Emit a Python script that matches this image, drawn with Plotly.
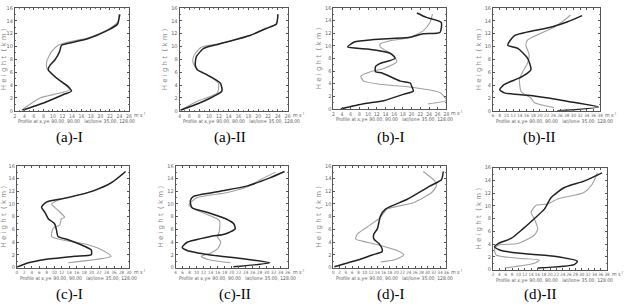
import plotly.graph_objects as go

W, H = 626, 307

# ---- data: (speed m/s, height km) for dark and light profiles ----
a1_dark_x = [3.6, 8.3, 12.1, 13.9, 13.2, 10.75, 9.0, 9.4, 10.4, 11.4, 11.8, 13.2, 17.3, 21.5, 23.6, 24.0]
a1_dark_y = [0.1, 1.3, 2.5, 3.06, 3.8, 5.1, 6.4, 7.1, 7.9, 9.2, 10.2, 10.5, 11.2, 12.5, 13.5, 15.0]
a1_light_x = [3.4, 7.3, 13.5, 10.75, 8.7, 8.7, 9.7, 11.1, 13.2, 17.3, 21.5, 23.6, 24.2]
a1_light_y = [0.1, 2.0, 3.3, 5.1, 6.6, 7.7, 9.2, 10.2, 10.7, 11.3, 12.6, 13.8, 15.0]

a2_dark_x = [4.2, 8.9, 12.6, 12.3, 9.6, 7.6, 7.2, 7.4, 8.9, 11.0, 13.6, 18.3, 21.6, 23.7, 24.0]
a2_dark_y = [0.1, 1.5, 3.06, 4.3, 5.6, 6.4, 7.1, 8.4, 9.7, 10.2, 10.7, 11.7, 12.8, 13.5, 15.0]
a2_light_x = [4.2, 7.6, 11.7, 11.9, 9.6, 7.6, 6.7, 7.0, 8.4, 11.0, 13.6, 18.3, 21.6, 23.7, 24.0]
a2_light_y = [0.1, 1.5, 2.8, 4.3, 5.6, 6.4, 7.6, 8.7, 9.9, 10.3, 10.7, 11.7, 12.8, 13.5, 15.0]

b1_dark_x = [3.7, 9.0, 13.6, 18.1, 20.4, 20.0, 19.7, 17.4, 13.2, 11.7, 11.7, 12.8, 16.2, 15.1, 9.8, 5.3, 6.8, 11.3, 19.3, 22.7, 26.5, 26.8, 23.4, 21.2]
b1_dark_y = [0.0, 0.8, 1.3, 2.3, 2.8, 3.6, 4.1, 4.4, 5.7, 5.9, 6.7, 7.2, 8.0, 8.8, 9.5, 9.8, 10.6, 11.0, 11.3, 11.9, 12.1, 13.7, 14.5, 15.2]
b1_light_x = [23.8, 28.0, 26.5, 20.4, 12.8, 9.0, 8.3, 10.6, 13.6, 16.6, 15.8, 12.8, 12.8, 15.1, 19.6, 22.7, 24.2, 24.8]
b1_light_y = [0.8, 1.4, 2.6, 3.4, 3.9, 4.4, 5.2, 5.9, 6.4, 7.5, 8.5, 9.8, 10.3, 10.8, 11.3, 12.4, 13.7, 15.0]

b2_dark_x = [25.2, 37.5, 28.1, 18.3, 9.4, 8.0, 9.4, 12.4, 14.9, 17.3, 16.3, 13.4, 10.4, 12.4, 23.2, 28.1, 32.6]
b2_dark_y = [0.0, 0.6, 1.5, 2.3, 2.8, 3.3, 4.1, 4.8, 5.4, 6.4, 8.2, 9.7, 10.2, 11.7, 13.0, 13.8, 14.8]
b2_light_x = [24.2, 18.3, 17.3, 15.3, 14.3, 13.9, 14.9, 16.3, 16.8, 15.8, 16.3, 24.2, 27.1, 29.1]
b2_light_y = [0.5, 1.3, 2.0, 2.6, 3.1, 4.8, 6.1, 7.4, 8.7, 10.2, 11.0, 13.0, 14.0, 14.9]

c1_dark_x = [0.0, 3.1, 7.5, 15.4, 19.9, 19.9, 17.2, 13.7, 11.0, 10.6, 10.1, 8.4, 7.5, 6.6, 7.9, 13.7, 20.7, 25.2, 29.1]
c1_dark_y = [0.1, 0.77, 1.3, 1.8, 2.05, 2.8, 3.6, 4.4, 4.9, 5.9, 6.9, 7.7, 8.7, 9.5, 10.3, 11.0, 12.1, 13.3, 15.1]
c1_light_x = [13.7, 25.2, 23.4, 19.0, 11.9, 9.3, 9.7, 11.5, 11.9, 12.8, 11.0, 9.3, 11.9, 19.0, 25.2, 28.7]
c1_light_y = [0.77, 1.8, 2.6, 3.6, 4.4, 4.9, 6.2, 6.7, 7.7, 7.9, 9.0, 10.0, 10.8, 11.8, 13.3, 14.8]

c2_dark_x = [20.5, 30.9, 23.3, 13.9, 7.3, 5.9, 7.3, 13.9, 18.2, 21.0, 20.6, 18.6, 12.9, 8.7, 8.2, 9.1, 16.7, 24.3, 30.9, 35.1]
c2_dark_y = [0.15, 0.8, 1.4, 2.0, 2.7, 3.2, 4.0, 4.9, 5.3, 6.1, 6.9, 7.6, 8.7, 9.4, 10.5, 11.2, 12.0, 12.8, 14.1, 15.1]
c2_light_x = [19.6, 13.2, 11.3, 14.1, 16.0, 16.9, 16.0, 16.5, 16.5, 14.1, 9.3, 7.8, 10.2, 18.8, 24.5, 28.2, 32.5]
c2_light_y = [0.8, 1.3, 1.8, 2.3, 3.0, 4.0, 4.8, 5.8, 7.4, 8.1, 9.2, 9.9, 11.0, 11.8, 12.7, 13.8, 15.0]

d1_dark_x = [0.3, 7.7, 12.4, 15.5, 15.5, 14.5, 12.9, 12.9, 14.0, 14.5, 15.0, 16.6, 23.4, 30.7, 34.4, 35.0]
d1_dark_y = [0.15, 1.2, 2.0, 2.5, 3.0, 3.8, 4.5, 5.3, 6.1, 7.1, 8.1, 9.2, 10.7, 12.8, 13.8, 15.1]
d1_light_x = [15.0, 19.2, 22.4, 20.3, 15.0, 10.8, 7.1, 7.7, 10.8, 15.0, 17.1, 25.5, 31.3, 32.8, 32.3, 28.6]
d1_light_y = [0.9, 1.2, 2.0, 2.7, 3.5, 4.0, 4.5, 5.3, 6.4, 7.9, 9.2, 10.2, 11.8, 12.8, 13.6, 15.1]

d2_dark_x = [16.1, 27.6, 28.6, 21.3, 9.8, 4.1, 2.5, 3.6, 7.7, 11.4, 15.0, 18.2, 20.3, 24.5, 30.7, 36.4]
d2_dark_y = [0.25, 0.8, 1.3, 2.1, 2.6, 3.1, 3.6, 4.1, 4.9, 6.4, 8.0, 9.5, 11.3, 12.9, 13.9, 15.2]
d2_light_x = [5.7, 15.0, 16.6, 9.8, 3.0, 2.5, 4.1, 9.8, 15.0, 16.1, 15.0, 14.0, 15.6, 19.2, 22.4, 30.7, 33.3, 34.9]
d2_light_y = [0.25, 1.0, 1.5, 1.8, 2.3, 3.4, 3.9, 4.1, 5.4, 6.4, 8.0, 9.0, 10.1, 10.3, 11.1, 12.1, 13.4, 15.2]

labels = ["(a)-I", "(a)-II", "(b)-I", "(b)-II", "(c)-I", "(c)-II", "(d)-I", "(d)-II"]
x_ranges = [(2, 26), (4, 26), (2, 28), (6, 38), (0, 30), (4, 36), (0, 36), (2, 38)]
y_range = (0, 16)
y_ticks = [0, 2, 4, 6, 8, 10, 12, 14, 16]

series = [
    (a1_dark_x, a1_dark_y, a1_light_x, a1_light_y),
    (a2_dark_x, a2_dark_y, a2_light_x, a2_light_y),
    (b1_dark_x, b1_dark_y, b1_light_x, b1_light_y),
    (b2_dark_x, b2_dark_y, b2_light_x, b2_light_y),
    (c1_dark_x, c1_dark_y, c1_light_x, c1_light_y),
    (c2_dark_x, c2_dark_y, c2_light_x, c2_light_y),
    (d1_dark_x, d1_dark_y, d1_light_x, d1_light_y),
    (d2_dark_x, d2_dark_y, d2_light_x, d2_light_y),
]

# layout boxes in pixels: (left, right, top, bottom)
boxes = [
    (13, 128, 5, 110), (179, 288, 5, 110), (334, 448, 5, 108), (495, 603, 5, 110),
    (15, 128, 166, 270), (175, 288, 166, 270), (334, 448, 166, 270), (495, 610, 168, 272),
]
label_pos = [(68, 137), (230, 137), (392, 137), (541, 137),
             (68, 297), (235, 297), (392, 297), (542, 297)]

fig = go.Figure()
layout = dict(
    width=W, height=H, margin=dict(l=0, r=0, t=0, b=0),
    paper_bgcolor="white", plot_bgcolor="white", showlegend=False,
)
annotations = []
for i, (dx, dy, lx, ly) in enumerate(series):
    n = "" if i == 0 else str(i + 1)
    xa, ya = "x" + n, "y" + n
    fig.add_trace(go.Scatter(x=lx, y=ly, mode="lines", line=dict(color="#a0a0a0", width=1.1),
                             xaxis=xa, yaxis=ya, line_shape="spline",
                             line_smoothing=0.6))
    fig.add_trace(go.Scatter(x=dx, y=dy, mode="lines", line=dict(color="#222222", width=1.5),
                             xaxis=xa, yaxis=ya, line_shape="spline",
                             line_smoothing=0.6))
    l, r, t, b = boxes[i]
    x0, x1 = x_ranges[i]
    nt = (x1 - x0) // 2 + 1
    avail = (r - l) / nt
    fs = 5 if avail >= 7.5 else 4.5
    common = dict(showgrid=False, zeroline=False, showline=True, linecolor="#555", linewidth=1,
                  mirror="allticks", ticks="inside", ticklen=2, tickcolor="#555",
                  minor=dict(ticks="inside", ticklen=1, tickcolor="#777"))
    layout["xaxis" + n] = dict(domain=[l / W, r / W], range=[x0, x1], anchor=ya,
                               tickvals=list(range(x0, x1 + 1, 2)), tickangle=0,
                               tickfont=dict(size=fs, color="#666", family="DejaVu Sans Condensed"),
                               **common)
    layout["yaxis" + n] = dict(domain=[1 - b / H, 1 - t / H], range=list(y_range), anchor=xa,
                               tickvals=y_ticks,
                               tickfont=dict(size=5, color="#666", family="DejaVu Sans"),
                               title=dict(text="H e i g h t  ( k m )", standoff=2,
                                          font=dict(size=7, color="#888", family="DejaVu Sans")),
                               **common)
    # unit label
    annotations.append(dict(x=(r + 3) / W, y=1 - (b + 4) / H, xref="paper", yref="paper",
                            text="m s<sup>-1</sup>", showarrow=False,
                            xanchor="left", yanchor="middle",
                            font=dict(size=5, color="#555")))
    # small info line
    annotations.append(dict(x=(l + 1) / W, y=1 - (b + 11) / H, xref="paper", yref="paper",
                            text="Profile at x,y= 90.00, 90.00   lat/lon= 35.00, 128.00",
                            showarrow=False, xanchor="left", yanchor="middle",
                            font=dict(size=5, color="#555", family="DejaVu Sans Condensed")))
    px, py = label_pos[i]
    annotations.append(dict(x=px / W, y=1 - py / H, xref="paper", yref="paper",
                            text=labels[i], showarrow=False, xanchor="center", yanchor="middle",
                            font=dict(size=15, color="black", family="Liberation Serif")))

layout["annotations"] = annotations
fig.update_layout(**layout)
fig.write_html("out.html")
